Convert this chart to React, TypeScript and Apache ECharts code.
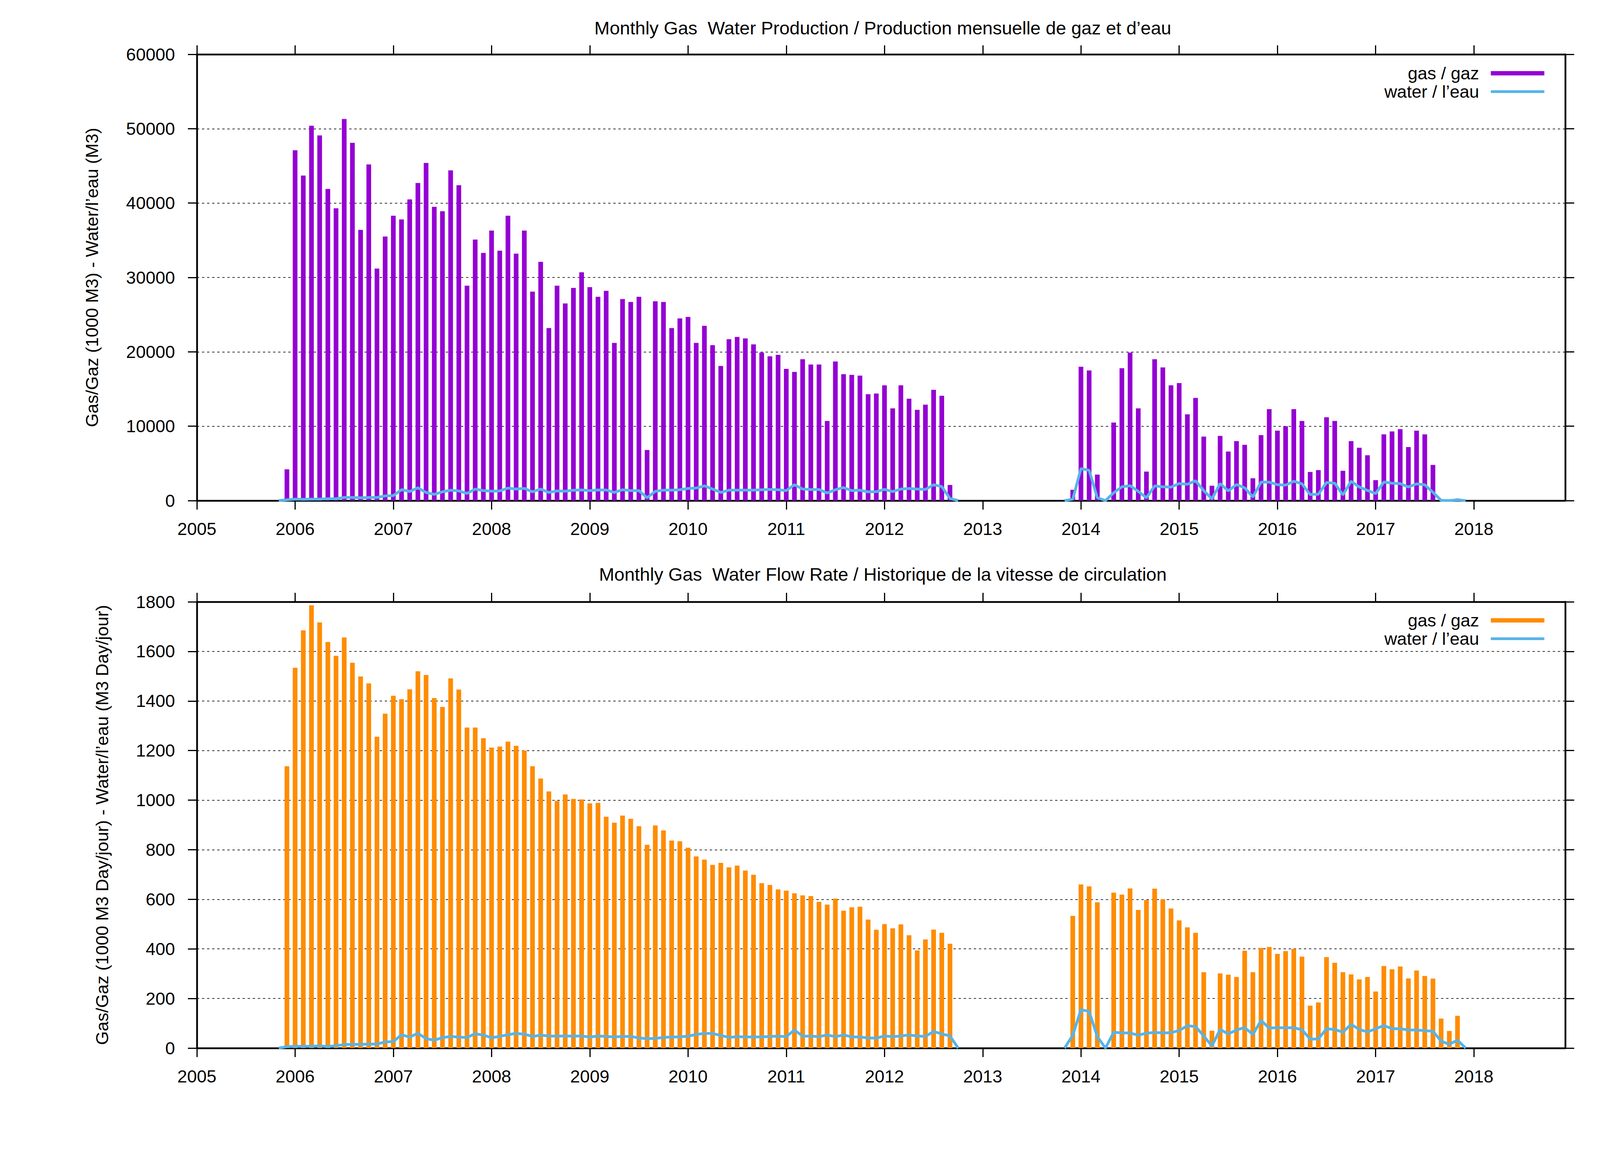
import { useEffect, useRef } from 'react';
import * as echarts from 'echarts';

// Monthly series start in November 2005, one value per month (null = no record)
const FIRST_YEAR = 2005;
const FIRST_MONTH = 11;

const yearTicks = [2005, 2006, 2007, 2008, 2009, 2010, 2011, 2012, 2013, 2014, 2015, 2016, 2017, 2018];

// Gas production, 1000 m3 per month
const gasVolume: (number | null)[] = [
  null, 4200,
  47100, 43700, 50400, 49100, 41900, 39300, 51300, 48100, 36400, 45200, 31200, 35500,
  38300, 37800, 40500, 42700, 45400, 39500, 38900, 44400, 42400, 28900, 35100, 33300,
  36300, 33600, 38300, 33200, 36300, 28100, 32100, 23200, 28900, 26500, 28600, 30700,
  28700, 27400, 28200, 21200, 27100, 26700, 27400, 6800, 26800, 26700, 23200, 24500,
  24700, 21200, 23500, 20900, 18100, 21700, 22000, 21800, 21000, 19900, 19400, 19600,
  17700, 17300, 19000, 18300, 18300, 10700, 18700, 17000, 16900, 16800, 14300, 14400,
  15500, 12400, 15500, 13700, 12200, 12900, 14900, 14100, 2100, null, null, null,
  null, null, null, null, null, null, null, null, null, null, null, 1450,
  18000, 17500, 3500, null, 10500, 17800, 19900, 12400, 3900, 19000, 17900, 15500,
  15800, 11600, 13800, 8600, 2000, 8700, 6600, 8000, 7500, 3000, 8800, 12300,
  9400, 10000, 12300, 10700, 3850, 4100, 11200, 10700, 4000, 8000, 7100, 6100,
  2750, 8900, 9300, 9600, 7200, 9400, 8900, 4800, 100, 60, 280, null,
];

// Water production, m3 per month
const waterVolume: (number | null)[] = [
  0, 100,
  200, 170, 200, 200, 250, 250, 420, 420, 380, 420, 420, 630,
  670, 1470, 1220, 1720, 1090, 840, 1180, 1390, 1300, 970, 1550, 1340,
  1260, 1300, 1680, 1550, 1640, 1180, 1550, 1090, 1300, 1260, 1390, 1430,
  1340, 1430, 1420, 1100, 1460, 1340, 1340, 380, 1250, 1400, 1400, 1460,
  1630, 1690, 1980, 1550, 1100, 1400, 1400, 1400, 1400, 1460, 1500, 1460,
  1340, 2130, 1550, 1490, 1490, 1020, 1460, 1750, 1340, 1400, 1170, 1200,
  1500, 1220, 1550, 1630, 1550, 1500, 2130, 1880, 280, 0, null, null,
  null, null, null, null, null, null, null, null, null, null, 0, 190,
  4300, 4070, 380, 0, 1050, 1850, 2000, 1240, 380, 1970, 1850, 1810,
  2290, 2200, 2670, 1340, 230, 2290, 1300, 2160, 1720, 480, 2480, 2480,
  2140, 2080, 2600, 2250, 810, 850, 2430, 2340, 760, 2600, 1820, 1370,
  940, 2500, 2340, 2290, 1820, 2250, 2130, 1110, 30, 15, 90, 0,
];

// Gas flow rate, 1000 m3 per day
const gasRate: (number | null)[] = [
  null, 1137,
  1534, 1685, 1786, 1717, 1638, 1582, 1656, 1554, 1499, 1471, 1256, 1349,
  1421, 1407, 1447, 1520, 1505, 1412, 1376, 1491, 1446, 1293, 1293, 1250,
  1212, 1216, 1236, 1219, 1200, 1137, 1087, 1035, 997, 1023, 1005, 1003,
  987, 989, 933, 909, 938, 925, 895, 820, 898, 878, 837, 834,
  808, 773, 760, 739, 747, 729, 736, 716, 699, 665, 658, 640,
  635, 624, 616, 613, 590, 579, 603, 554, 568, 570, 518, 477,
  500, 483, 499, 455, 394, 438, 478, 465, 421, null, null, null,
  null, null, null, null, null, null, null, null, null, null, null, 533,
  660, 652, 588, null, 627, 619, 644, 557, 597, 643, 600, 563,
  515, 487, 465, 306, 70, 301, 296, 287, 393, 306, 404, 408,
  380, 391, 400, 369, 171, 184, 367, 344, 306, 297, 277, 287,
  228, 331, 318, 329, 281, 313, 291, 280, 119, 69, 130, null,
];

// Water flow rate, m3 per day
const waterRate: (number | null)[] = [
  0, 6,
  7, 7, 7, 9, 6, 10, 14, 15, 15, 16, 16, 25,
  26, 54, 44, 60, 38, 32, 42, 47, 44, 43, 58, 52,
  42, 47, 54, 59, 56, 47, 52, 49, 48, 49, 48, 49,
  44, 49, 47, 45, 47, 47, 41, 38, 39, 43, 45, 45,
  48, 55, 59, 59, 51, 43, 46, 45, 45, 45, 47, 48,
  46, 73, 48, 48, 46, 53, 46, 53, 45, 45, 41, 40,
  49, 46, 49, 53, 49, 47, 67, 57, 49, 0, null, null,
  null, null, null, null, null, null, null, null, null, null, 0, 52,
  155, 148, 46, 0, 64, 61, 61, 52, 60, 63, 61, 62,
  71, 90, 87, 49, 8, 75, 57, 73, 83, 55, 111, 81,
  82, 82, 82, 74, 36, 37, 78, 75, 64, 96, 75, 65,
  78, 91, 78, 78, 73, 73, 70, 68, 28, 15, 32, 0,
];

const legendLabels: Record<string, string> = {
  gasVolume: 'gas / gaz',
  waterVolume: 'water / l’eau',
  gasRate: 'gas / gaz',
  waterRate: 'water / l’eau',
};

const FONT = 'Liberation Sans';
const X_MIN = 2005;
const X_MAX = 2018.93;
const WATER_COLOR = '#56b4e9';

// decimal-year position of month i (first of the month)
const monthX = (i: number) => FIRST_YEAR + (FIRST_MONTH - 1 + i) / 12;

const barPoints = (vals: (number | null)[]) =>
  vals.flatMap((v, i) => (v == null ? [] : [[monthX(i), v]]));

const linePoints = (vals: (number | null)[]) =>
  vals.map((v, i) => [monthX(i), v == null ? '-' : v]);

function xAxes(gridIndex: number): any[] {
  const base = {
    type: 'value',
    gridIndex,
    min: X_MIN,
    max: X_MAX,
    axisLine: { onZero: false, lineStyle: { color: '#000', width: 4.5 } },
    axisTick: { show: true, length: 23, customValues: yearTicks, lineStyle: { color: '#000', width: 3 } },
    splitLine: { show: false },
  };
  return [
    {
      ...base,
      position: 'bottom',
      axisLabel: {
        customValues: yearTicks,
        margin: 50,
        fontSize: 45,
        color: '#000',
        fontFamily: FONT,
        formatter: (v: number) => String(v),
      },
    },
    { ...base, position: 'top', axisLabel: { show: false } },
  ];
}

function yAxes(gridIndex: number, max: number, interval: number, name: string, nameGap: number): any[] {
  const base = {
    type: 'value',
    gridIndex,
    min: 0,
    max,
    interval,
    axisLine: { show: true, onZero: false, lineStyle: { color: '#000', width: 4.5 } },
    axisTick: { show: true, length: 23, lineStyle: { color: '#000', width: 3 } },
  };
  return [
    {
      ...base,
      position: 'left',
      name,
      nameLocation: 'middle',
      nameGap,
      nameTextStyle: { fontSize: 45, color: '#000', fontFamily: FONT },
      axisLabel: {
        margin: 56,
        fontSize: 45,
        color: '#000',
        fontFamily: FONT,
        formatter: (v: number) => String(v),
      },
      splitLine: { show: true, lineStyle: { color: '#333', width: 1.8, type: [6, 7] } },
    },
    { ...base, position: 'right', axisLabel: { show: false }, splitLine: { show: false } },
  ];
}

function legendFor(top: number, gasName: string, waterName: string): any {
  return {
    orient: 'vertical',
    right: 152,
    top,
    align: 'right',
    itemWidth: 137,
    itemHeight: 11,
    itemGap: 2,
    selectedMode: false,
    data: [
      { name: gasName, icon: 'rect' },
      { name: waterName, itemStyle: { opacity: 0 }, lineStyle: { width: 7, color: WATER_COLOR } },
    ],
    lineStyle: { width: 7 },
    formatter: (n: string) => legendLabels[n],
    textStyle: { fontSize: 45, color: '#000', fontFamily: FONT, padding: [0, 25, 0, 0] },
  };
}

export default function App() {
  const chartRef = useRef<HTMLDivElement>(null);

  useEffect(() => {
    if (!chartRef.current) return;
    const chart = echarts.init(chartRef.current, null, { renderer: 'svg' });

    const titleStyle = { fontSize: 47, fontWeight: 'normal', color: '#000', fontFamily: FONT };

    const option: any = {
      animation: false,
      backgroundColor: '#fff',
      textStyle: { fontFamily: FONT },
      title: [
        {
          text: 'Monthly Gas  Water Production / Production mensuelle de gaz et d’eau',
          left: 2255,
          top: 43,
          textAlign: 'center',
          textStyle: titleStyle,
        },
        {
          text: 'Monthly Gas  Water Flow Rate / Historique de la vitesse de circulation',
          left: 2255,
          top: 1441,
          textAlign: 'center',
          textStyle: titleStyle,
        },
      ],
      legend: [legendFor(160, 'gasVolume', 'waterVolume'), legendFor(1560, 'gasRate', 'waterRate')],
      grid: [
        { left: 504, top: 139, width: 3503, height: 1142, outerBoundsMode: 'none' },
        { left: 504, top: 1540, width: 3503, height: 1142, outerBoundsMode: 'none' },
      ],
      xAxis: [...xAxes(0), ...xAxes(1)],
      yAxis: [
        ...yAxes(0, 60000, 10000, 'Gas/Gaz (1000 M3) - Water/l’eau (M3)', 246),
        ...yAxes(1, 1800, 200, 'Gas/Gaz (1000 M3 Day/jour) - Water/l’eau (M3 Day/jour)', 220),
      ],
      series: [
        {
          name: 'gasVolume',
          type: 'bar',
          xAxisIndex: 0,
          yAxisIndex: 0,
          barWidth: 12,
          itemStyle: { color: '#9400d3' },
          data: barPoints(gasVolume),
        },
        {
          name: 'waterVolume',
          type: 'line',
          xAxisIndex: 0,
          yAxisIndex: 0,
          symbol: 'none',
          connectNulls: false,
          lineStyle: { color: WATER_COLOR, width: 7 },
          itemStyle: { color: WATER_COLOR },
          data: linePoints(waterVolume),
        },
        {
          name: 'gasRate',
          type: 'bar',
          xAxisIndex: 2,
          yAxisIndex: 2,
          barWidth: 12,
          itemStyle: { color: '#ff8c00' },
          data: barPoints(gasRate),
        },
        {
          name: 'waterRate',
          type: 'line',
          xAxisIndex: 2,
          yAxisIndex: 2,
          symbol: 'none',
          connectNulls: false,
          lineStyle: { color: WATER_COLOR, width: 7 },
          itemStyle: { color: WATER_COLOR },
          data: linePoints(waterRate),
        },
      ],
    };

    chart.setOption(option);
    return () => {
      chart.dispose();
    };
  }, []);

  return (
    <div
      ref={chartRef}
      style={{ position: 'absolute', left: 0, top: 0, width: 4114, height: 2994, background: '#fff' }}
    />
  );
}
